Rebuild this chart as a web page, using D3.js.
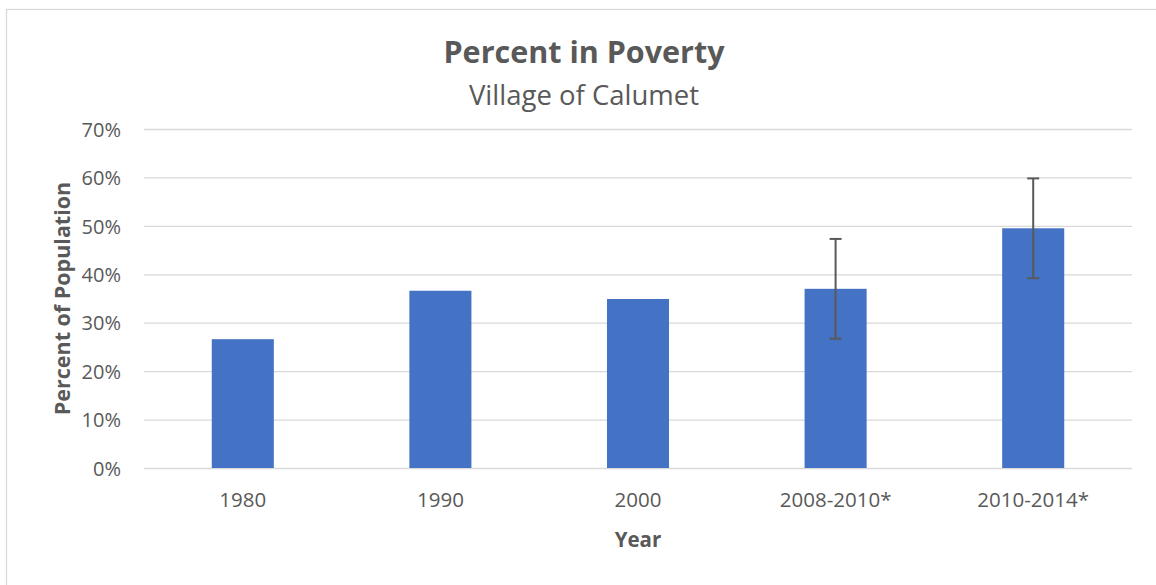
<!DOCTYPE html>
<html>
<head>
<meta charset="utf-8">
<script src="https://cdn.jsdelivr.net/npm/d3@7"></script>
<style>
  body { margin: 0; background: #fff; }
  svg { display: block; font-family: "Open Sans", sans-serif; }
</style>
</head>
<body>
<div id="chart"></div>
<script>
// chart data
var years = ["1980", "1990", "2000", "2008-2010*", "2010-2014*"];
var poverty = [26.6, 36.6, 34.9, 37.0, 49.5];
// margin of error, only for the survey estimates
var moe = [null, null, null, 10.3, 10.3];
var yTicks = [0, 10, 20, 30, 40, 50, 60, 70];

var width = 1156;
var height = 585;
var textColor = "#595959";
var gridColor = "#d9d9d9";
var barColor = "#4472c4";

var plot = {left: 144, right: 1132, top: 129, bottom: 468};

var svg = d3.select("#chart").append("svg")
    .attr("width", width)
    .attr("height", height);

// chart frame (runs off the right and bottom of the window)
svg.append("rect")
    .attr("x", 6.5).attr("y", 9.5)
    .attr("width", 1160).attr("height", 600)
    .attr("fill", "#fff")
    .attr("stroke", gridColor)
    .attr("stroke-width", 1.3);

var x = d3.scaleBand().domain(years)
    .range([plot.left, plot.right])
    .paddingInner(0.686).paddingOuter(0.343);

var y = d3.scaleLinear().domain([0, 70]).range([plot.bottom, plot.top]);

// y axis with gridlines
var yAxis = svg.append("g")
    .attr("transform", `translate(${plot.left},0)`)
    .call(d3.axisLeft(y).tickValues(yTicks)
        .tickSize(-(plot.right - plot.left))
        .tickPadding(23)
        .tickFormat(d => d + "%"));
yAxis.attr("font-family", null);
yAxis.select(".domain").remove();
yAxis.selectAll("line").attr("stroke", gridColor).attr("stroke-width", 1.3);
yAxis.selectAll("text")
    .attr("fill", textColor)
    .style("font-size", "20px")
    .attr("dy", "0.36em");

// x axis labels
var xAxis = svg.append("g")
    .attr("transform", `translate(0,${plot.bottom})`)
    .call(d3.axisBottom(x).tickSize(0).tickPadding(24));
xAxis.attr("font-family", null);
xAxis.select(".domain").remove();
xAxis.selectAll("text")
    .attr("fill", textColor)
    .style("font-size", "20.5px");

// bars
svg.selectAll(".bar")
    .data(years).enter()
    .append("rect")
    .attr("class", "bar")
    .attr("x", d => x(d))
    .attr("width", x.bandwidth())
    .attr("y", (d, i) => y(poverty[i]))
    .attr("height", (d, i) => y(0) - y(poverty[i]))
    .attr("fill", barColor);

// error bars
var errData = years.map((d, i) => ({year: d, v: poverty[i], e: moe[i]}))
    .filter(d => d.e != null);

var err = svg.selectAll(".err")
    .data(errData).enter()
    .append("g")
    .attr("class", "err")
    .attr("stroke", textColor)
    .attr("stroke-width", 2);
var cx = d => x(d.year) + x.bandwidth() / 2;
err.append("line")
    .attr("x1", cx).attr("x2", cx)
    .attr("y1", d => y(d.v + d.e)).attr("y2", d => y(d.v - d.e));
err.append("line")
    .attr("x1", d => cx(d) - 6).attr("x2", d => cx(d) + 6)
    .attr("y1", d => y(d.v + d.e)).attr("y2", d => y(d.v + d.e));
err.append("line")
    .attr("x1", d => cx(d) - 6).attr("x2", d => cx(d) + 6)
    .attr("y1", d => y(d.v - d.e)).attr("y2", d => y(d.v - d.e));

// titles
svg.append("text")
    .attr("x", 584).attr("y", 63)
    .attr("text-anchor", "middle")
    .attr("fill", textColor)
    .style("font-size", "30.5px").style("font-weight", "bold")
    .text("Percent in Poverty");

svg.append("text")
    .attr("x", 584).attr("y", 105)
    .attr("text-anchor", "middle")
    .attr("fill", textColor)
    .style("font-size", "27.5px")
    .text("Village of Calumet");

svg.append("text")
    .attr("x", (plot.left + plot.right) / 2).attr("y", 547)
    .attr("text-anchor", "middle")
    .attr("fill", textColor)
    .style("font-size", "20.5px").style("font-weight", "bold")
    .text("Year");

svg.append("text")
    .attr("transform", `translate(70,${(plot.top + plot.bottom) / 2}) rotate(-90)`)
    .attr("text-anchor", "middle")
    .attr("fill", textColor)
    .style("font-size", "21.5px").style("font-weight", "bold")
    .text("Percent of Population");
</script>
</body>
</html>
